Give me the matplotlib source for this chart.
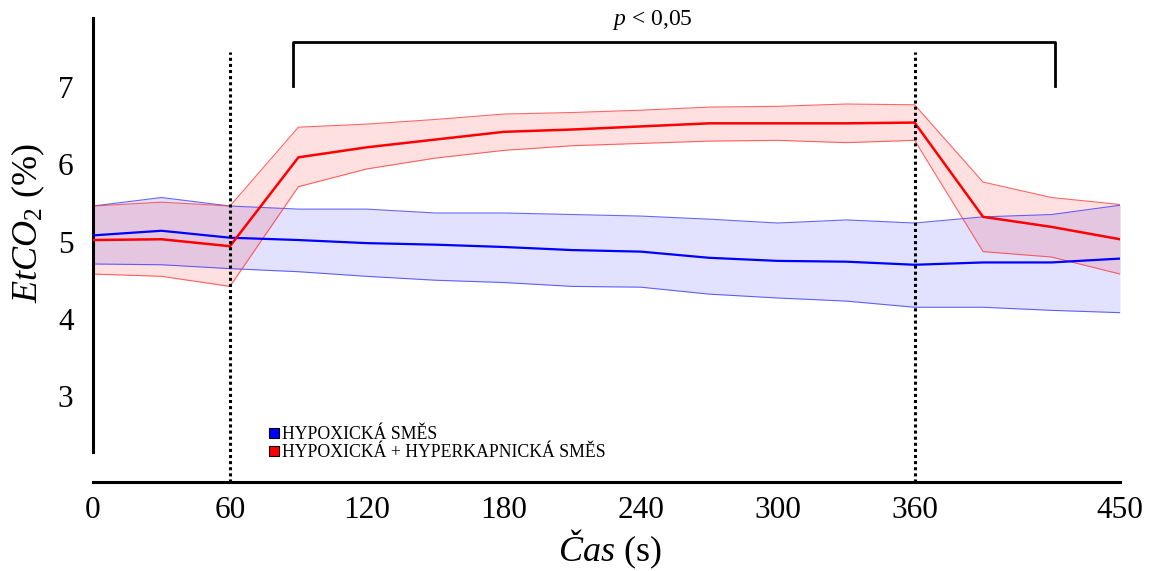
import matplotlib
matplotlib.use("Agg")
import matplotlib.pyplot as plt
from matplotlib.lines import Line2D

plt.rcParams['font.family'] = ['Liberation Serif', 'DejaVu Serif']
plt.rcParams['mathtext.fontset'] = 'custom'
plt.rcParams['mathtext.rm'] = 'Liberation Serif'
plt.rcParams['mathtext.it'] = 'Liberation Serif:italic'

# ---- data ----
time_s = [0, 30, 60, 90, 120, 150, 180, 210, 240, 270, 300, 330, 360, 390, 420, 450]

hypox_mean = [5.08, 5.14, 5.05, 5.02, 4.98, 4.96, 4.93, 4.89, 4.87, 4.79, 4.75, 4.74, 4.70, 4.73, 4.73, 4.78]
hypox_upper = [5.46, 5.57, 5.46, 5.42, 5.42, 5.37, 5.37, 5.35, 5.33, 5.29, 5.24, 5.28, 5.24, 5.32, 5.35, 5.47]
hypox_lower = [4.71, 4.70, 4.65, 4.61, 4.55, 4.50, 4.47, 4.42, 4.41, 4.32, 4.27, 4.23, 4.15, 4.15, 4.11, 4.08]

hyper_mean = [5.02, 5.03, 4.94, 6.09, 6.22, 6.32, 6.42, 6.45, 6.49, 6.53, 6.53, 6.53, 6.54, 5.32, 5.19, 5.03]
hyper_upper = [5.46, 5.51, 5.46, 6.48, 6.52, 6.58, 6.65, 6.67, 6.70, 6.74, 6.75, 6.78, 6.77, 5.77, 5.57, 5.48]
hyper_lower = [4.58, 4.55, 4.42, 5.71, 5.94, 6.08, 6.18, 6.24, 6.27, 6.30, 6.31, 6.28, 6.31, 4.87, 4.80, 4.58]

x_ticks = [0, 60, 120, 180, 240, 300, 360, 450]
y_ticks = [3, 4, 5, 6, 7]
event_times = [60, 360]
bracket_x = [87.6, 421.5]
p_text_x = 245
legend_labels = ['HYPOXICKÁ SMĚS', 'HYPOXICKÁ + HYPERKAPNICKÁ SMĚS']

# ---- figure ----
fig = plt.figure(figsize=(11.53, 5.71), dpi=100)
ax = fig.add_axes([93 / 1153, 89 / 571, 1027 / 1153, 464 / 571])

ax.fill_between(time_s, hypox_lower, hypox_upper, color=(0, 0, 1), alpha=0.115, lw=0, zorder=1)
ax.fill_between(time_s, hyper_lower, hyper_upper, color=(1, 0, 0), alpha=0.12, lw=0, zorder=1)
for arr in (hypox_upper, hypox_lower):
    ax.plot(time_s, arr, color=(0.2, 0.2, 1), lw=0.8, alpha=0.75, zorder=2)
for arr in (hyper_upper, hyper_lower):
    ax.plot(time_s, arr, color=(1, 0.2, 0.2), lw=0.8, alpha=0.75, zorder=2)
ax.plot(time_s, hypox_mean, color='#0000ff', lw=1.6, zorder=3)
ax.plot(time_s, hyper_mean, color='#ff0000', lw=1.8, zorder=3)

ymin, ymax = 1.889, 7.893
for t in event_times:
    ax.plot([t, t], [ymin, 7.45], color='black', lw=2.2, linestyle=(0, (1, 1)), zorder=4,
            clip_on=False)

# significance bracket
ax.plot([bracket_x[0], bracket_x[0], bracket_x[1], bracket_x[1]],
        [7.01, 7.58, 7.58, 7.01], color='black', lw=2.0, clip_on=False, zorder=4)
ax.text(p_text_x, 7.865, r'$p$ < 0,05', ha='center', va='center', fontsize=17)

ax.set_xlim(0, 450)
ax.set_ylim(ymin, ymax)
for s in ('top', 'right'):
    ax.spines[s].set_visible(False)
ax.spines['left'].set_bounds(2.277, ymax)
ax.spines['left'].set_linewidth(2.2)
ax.spines['bottom'].set_linewidth(2.2)

ax.set_xticks(x_ticks)
ax.set_yticks(y_ticks)
ax.tick_params(axis='x', length=0, labelsize=22.5, pad=10)
ax.tick_params(axis='y', length=0, labelsize=22.5, pad=14)

fig.text(28 / 1153, (571 - 223) / 571, r'$\mathit{EtCO}_{\mathrm{2}}$ (%)', rotation=90,
         ha='center', va='center', fontsize=26)
fig.text(610 / 1153, (571 - 549) / 571, r'$\mathit{Čas}$ (s)', ha='center', va='center',
         fontsize=26)

handles = [Line2D([], [], linestyle='none', marker='s', markersize=6.5, markerfacecolor=c,
                  markeredgecolor='black', markeredgewidth=0.8)
           for c in ('#0000ff', '#ff0000')]
fig.legend(handles, legend_labels, loc='center left', bbox_to_anchor=(268 / 1153, (571 - 443.5) / 571),
           frameon=False, fontsize=12.8, handlelength=0.65, handletextpad=0.12, labelspacing=0.05,
           borderpad=0, borderaxespad=0)

fig.savefig('out.png', dpi=100)
